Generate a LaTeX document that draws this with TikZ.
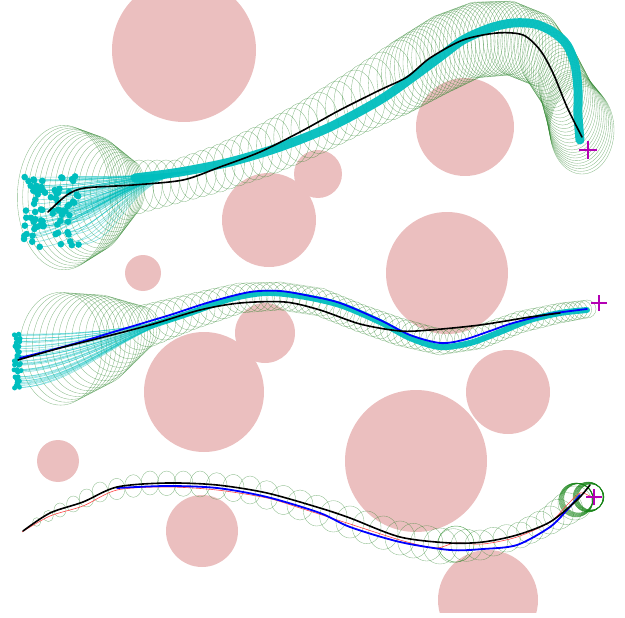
\documentclass[tikz,border=0pt]{standalone}
\begin{document}
\begin{tikzpicture}[x=1pt,y=-1pt,
  obst/.style={fill={rgb,255:red,235;green,191;blue,191}},
  ell/.style={draw={rgb,255:red,40;green,130;blue,40},draw opacity=0.55,line width=0.35pt},
  ellB/.style={draw={rgb,255:red,20;green,130;blue,20},draw opacity=0.7,line width=0.45pt},
  fan/.style={draw={rgb,255:red,0;green,190;blue,190},draw opacity=0.45,line width=0.6pt},
  band/.style={draw={rgb,255:red,0;green,190;blue,190},draw opacity=0.95,line width=#1,line cap=round,line join=round},
  part/.style={fill={rgb,255:red,0;green,190;blue,190}},
  meanpath/.style={draw=black,line width=1.6pt,line cap=round},
  bluepath/.style={draw={rgb,255:red,0;green,0;blue,255},line width=1.8pt,line cap=round},
  redpath/.style={draw={rgb,255:red,255;green,70;blue,70},line width=0.6pt},
  goal/.style={draw={rgb,255:red,180;green,0;blue,180},line width=1.5pt}]
\useasboundingbox (0,0) rectangle (625,618);
\newcommand\ellchain[3]{%
 \foreach \x/\y/\a/\b [count=\i, remember=\x as \qx (initially 0), remember=\y as \qy (initially 0), remember=\a as \qa (initially 0), remember=\b as \qb (initially 0)] in {#3} {%
   \ifnum\i>1
     \foreach \k in {1,...,#1} {%
       \pgfmathsetmacro\fr{\k/#1}%
       \pgfmathsetmacro\cx{\qx+(\x-\qx)*\fr}%
       \pgfmathsetmacro\cy{\qy+(\y-\qy)*\fr}%
       \pgfmathsetmacro\ra{\qa+(\a-\qa)*\fr}%
       \pgfmathsetmacro\rb{\qb+(\b-\qb)*\fr}%
       \draw[#2] (\cx,\cy) ellipse[x radius=\ra pt, y radius=\rb pt];
     }%
   \fi
 }}
% obstacles
\begin{scope}
\clip (0,0) rectangle (625,612);
\fill[obst] (184,50) circle[radius=72pt];
\fill[obst] (465,127) circle[radius=49pt];
\fill[obst] (318,174) circle[radius=24pt];
\fill[obst] (269,220) circle[radius=47pt];
\fill[obst] (143,273) circle[radius=18pt];
\fill[obst] (447,273) circle[radius=61pt];
\fill[obst] (265,333) circle[radius=30pt];
\fill[obst] (204,392) circle[radius=60pt];
\fill[obst] (508,392) circle[radius=42pt];
\fill[obst] (58,461) circle[radius=21pt];
\fill[obst] (416,461) circle[radius=71pt];
\fill[obst] (202,531) circle[radius=36pt];
\fill[obst] (488,600) circle[radius=50pt];
\end{scope}
% ---------- panel 1 ----------
\ellchain{9}{ell}{60/198/48/74, 95/194/35/58, 130/188/15/28}
\ellchain{5}{ell}{130/188/15/28, 175/182/13/22, 220/168/15/24, 265/150/17/27, 310/128/19/30, 355/103/21/33, 400/78/23/38}
\ellchain{9}{ell}{400/78/23/38, 440/55/24/40, 475/40/24/38, 510/38/23/37, 540/50/22/37, 560/80/22/38, 572/110/26/40, 582/130/32/44}
\pgfmathsetseed{11}
\foreach \n in {1,...,80} {%
  \pgfmathsetmacro\px{24+rnd*56}%
  \pgfmathsetmacro\py{176+rnd*72}%
  \draw[fan] (\px,\py) .. controls (\px+45,\py) and (120,178) .. (195,171);
  \fill[part] (\px,\py) circle[radius=3.3pt];
}
\draw[band=9pt] plot[smooth] coordinates {(135,178) (180,172) (230,162) (280,147) (330,127) (380,100) (413,77) (440,57) (463,40) (490,28) (513,23) (535,24) (553,32) (567,45) (575,65) (578,90) (578,115) (580,140)};
\draw[meanpath] plot[smooth] coordinates {(48,212) (67,195) (85,188) (133,185) (183,180) (220,167) (260,152) (300,132) (340,110) (380,90) (407,77) (430,58) (463,40) (497,33) (523,35) (540,50) (553,73) (567,107) (582,137)};
\draw[goal] (579,150) -- (597,150) (588,141) -- (588,159);
% ---------- panel 2 ----------
\ellchain{8}{ell}{55/350/42/58, 100/340/35/45, 140/328/20/22}
\ellchain{6}{ell}{140/328/20/22, 190/312/17/18, 240/298/15/15, 280/296/14/14, 320/302/14/14, 360/318/13/14, 400/332/13/14, 440/342/13/13, 480/337/12/12, 520/322/11/11, 560/313/10/10, 587/309/9/9}
\pgfmathsetseed{5}
\foreach \n in {1,...,40} {%
  \pgfmathsetmacro\px{14+rnd*7}%
  \pgfmathsetmacro\py{332+rnd*56}%
  \draw[fan] (\px,\py) .. controls (\px+55,\py) and (120,332) .. (190,315);
  \fill[part] (\px,\py) circle[radius=2.5pt];
}
\draw[band=6pt] plot[smooth] coordinates {(150,326) (190,313) (230,299) (265,293) (300,296) (340,305) (380,322) (410,338) (440,347) (470,343) (500,332) (530,320) (560,313) (587,310)};
\draw[bluepath] plot[smooth] coordinates {(20,358) (70,345) (120,330) (170,315) (210,302) (250,292) (280,291) (310,296) (340,303) (380,320) (410,335) (440,343) (463,340) (490,331) (513,323) (550,314) (587,309)};
\draw[meanpath] plot[smooth] coordinates {(18,360) (60,348) (100,338) (150,325) (200,310) (240,303) (285,302) (320,310) (360,324) (400,331) (430,330) (480,325) (530,317) (560,313)};
\draw[goal] (591,303) -- (607,303) (599,295) -- (599,311);
% ---------- panel 3 ----------
\ellchain{3}{ell}{25/528/3/3, 60/510/6/7, 100/492/8/10, 150/483/9/12, 200/484/10/13, 250/490/11/14, 300/505/13/15, 350/522/14/16, 400/538/15/17, 440/546/17/18, 480/545/15/15, 520/535/13/13, 550/520/14/14, 575/503/17/17}
\draw[ellB] (456,544) circle[radius=18pt];
\foreach \d in {0,1,...,8} {\draw[ellB] (576+\d*0.3,500-\d*0.2) circle[radius={17-\d*0.3}];}
\foreach \d in {0,1,...,10} {\draw[ellB] (588+\d*0.3,497) circle[radius={15-\d*0.2}];}
\draw[redpath] plot[smooth] coordinates {(22,532) (50,516) (83,506) (117,490) (167,487) (217,490) (267,498) (300,508) (350,524) (400,540) (435,548) (455,543) (483,544) (517,537) (550,522) (567,505) (580,493) (590,496) (597,498)};
\draw[bluepath] plot[smooth] coordinates {(117,488) (167,486) (217,488) (267,497) (320,513) (350,527) (400,542) (450,550) (483,549) (517,545) (550,527) (567,510) (580,495)};
\draw[meanpath] plot[smooth] coordinates {(23,531) (50,513) (83,502) (117,487) (167,483) (217,485) (267,493) (320,508) (350,518) (400,537) (450,543) (483,542) (517,535) (550,522) (577,500) (590,485)};
\draw[goal] (586,497) -- (602,497) (594,489) -- (594,505);
\end{tikzpicture}
\end{document}
